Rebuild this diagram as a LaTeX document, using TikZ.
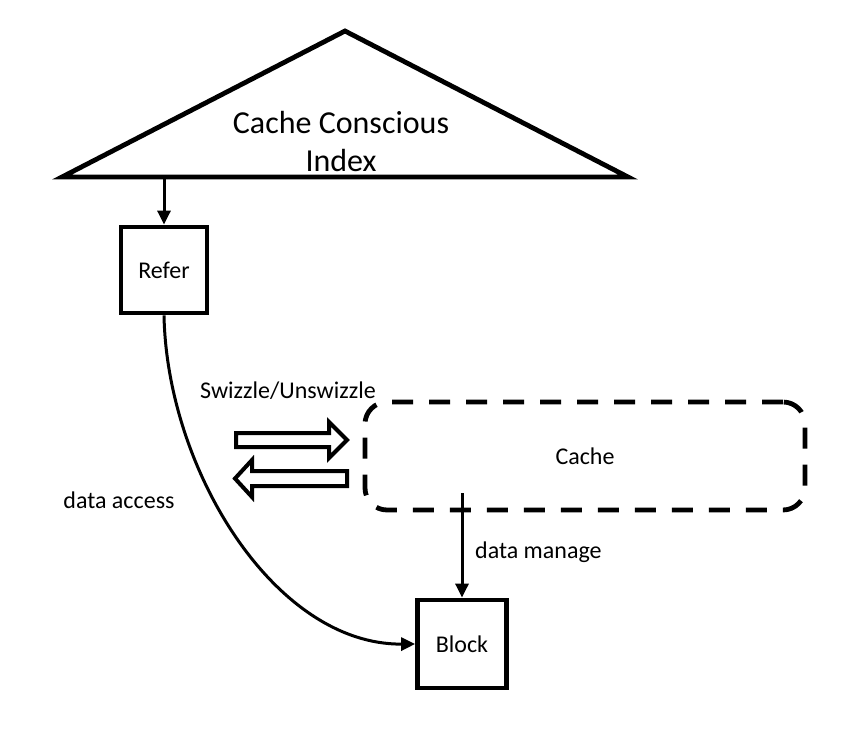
\documentclass[tikz,border=0pt]{standalone}
\usepackage{fontspec}
\setmainfont{Carlito}
\usetikzlibrary{arrows.meta}
\begin{document}
\begin{tikzpicture}[x=1pt,y=-1pt,
  box/.style={draw,line width=4.8pt,minimum width=86pt,minimum height=86pt,inner sep=0pt,font=\fontsize{24}{28}\selectfont},
  lbl/.style={font=\fontsize{24}{28}\selectfont,inner sep=0pt},
  conn/.style={line width=3pt,-{Triangle[length=14pt,width=13pt]}},
  hollow/.style={draw,line width=4pt,fill=white,line join=miter},
  cachebox/.style={draw,line width=4.8pt,dash pattern=on 21pt off 16pt,rounded corners=22pt,minimum width=440pt,minimum height=108pt,inner sep=0pt,font=\fontsize{24}{28}\selectfont}]
\useasboundingbox (0,0) rectangle (854,740);
% index triangle
\draw[line width=4.8pt,line join=miter] (62,177) -- (345,31) -- (628,177) -- cycle;
\node[inner sep=0pt,font=\fontsize{32}{38}\selectfont,align=center] (idx) at (341,141) {Cache Conscious\\Index};
% boxes
\node[box] (refer) at (164,270) {Refer};
\node[box,minimum width=89pt,minimum height=88pt] (block) at (462,644) {Block};
\node[cachebox] (cache) at (585,456) {Cache};
% connectors
\coordinate (tb) at (164,179);
\draw[conn] (tb) -- (refer.north);
\draw[conn] (refer.south) .. controls (167,470) and (275,645) .. (block.west);
\coordinate (cs) at (462,493);
\draw[conn] (cs) -- (block.north);
% hollow arrows
\draw[hollow] (236,433) -- (329,433) -- (329,422) -- (347,440) -- (329,458) -- (329,447) -- (236,447) -- cycle;
\draw[hollow] (347,471) -- (252,471) -- (252,460) -- (235,478.5) -- (252,497) -- (252,486) -- (347,486) -- cycle;
% labels
\node[lbl,anchor=base] (sw) at (288,398) {Swizzle/Unswizzle};
\node[lbl,anchor=base] (da) at (119,508) {data access};
\node[lbl,anchor=base west] (dm) at (475,558) {data manage};
\end{tikzpicture}
\end{document}
